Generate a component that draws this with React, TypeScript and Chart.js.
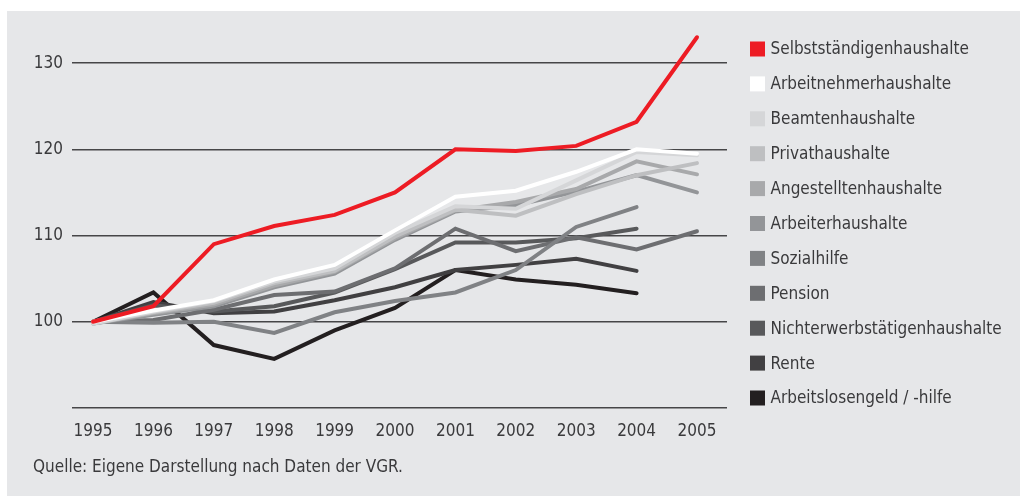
import React, { useEffect, useRef } from "react";
import { Chart, registerables } from "chart.js";

Chart.register(...registerables);

const years = [1995, 1996, 1997, 1998, 1999, 2000, 2001, 2002, 2003, 2004, 2005];
const yTicks = [90, 100, 110, 120, 130];

const seriesNames = [
  "Selbstständigenhaushalte",
  "Arbeitnehmerhaushalte",
  "Beamtenhaushalte",
  "Privathaushalte",
  "Angestelltenhaushalte",
  "Arbeiterhaushalte",
  "Sozialhilfe",
  "Pension",
  "Nichterwerbstätigenhaushalte",
  "Rente",
  "Arbeitslosengeld / -hilfe",
];

const seriesColors = [
  "#ed1c24",
  "#ffffff",
  "#d5d6d8",
  "#bebfc1",
  "#a8a9ab",
  "#939598",
  "#808285",
  "#6d6e71",
  "#58595b",
  "#414042",
  "#231f20",
];

const selbststaendige = [100, 101.8, 109.0, 111.1, 112.4, 115.0, 120.0, 119.8, 120.4, 123.2, 133.0];
const arbeitnehmer = [100, 101.3, 102.5, 104.9, 106.6, 110.6, 114.5, 115.2, 117.4, 120.0, 119.5];
const beamte = [99.8, 101.2, 102.4, 104.7, 106.2, 110.3, 113.4, 113.1, 116.4, 119.7, 119.3];
const privat = [99.8, 101.1, 102.2, 104.5, 105.9, 109.9, 113.0, 112.3, 114.8, 117.0, 118.4];
const angestellte = [99.8, 101.0, 102.0, 104.2, 105.8, 109.7, 112.9, 113.9, 115.4, 118.6, 117.1];
const arbeiter = [99.8, 100.8, 101.8, 104.0, 105.6, 109.5, 112.8, 113.5, 115.1, 117.0, 115.0];
const sozialhilfe = [100, 99.9, 100.0, 98.7, 101.1, 102.4, 103.4, 106.0, 111.0, 113.3];
const pension = [100, 100.2, 101.4, 103.1, 103.5, 106.2, 110.8, 108.2, 109.8, 108.4, 110.5];
const nichterwerb = [100, 101.9, 101.2, 101.8, 103.4, 106.1, 109.2, 109.2, 109.7, 110.8];
const rente = [100, 102.3, 101.0, 101.2, 102.5, 104.0, 106.0, 106.6, 107.3, 105.9];
const arbeitslos = [100, 103.4, 97.3, 95.7, 99.0, 101.6, 106.0, 104.9, 104.3, 103.3];

const seriesValues = [
  selbststaendige,
  arbeitnehmer,
  beamte,
  privat,
  angestellte,
  arbeiter,
  sozialhilfe,
  pension,
  nichterwerb,
  rente,
  arbeitslos,
];

const FONT = '"DejaVu Sans Condensed", "Liberation Sans Narrow", "Open Sans", sans-serif';
const FONT_SIZE = 17;
const TEXT = "#3a3a3c";
const BG = "#e6e7e9";

const legendPlugin = {
  id: "sideLegend",
  afterDraw(chart: any) {
    const ctx = chart.ctx;
    ctx.save();
    ctx.font = `${FONT_SIZE}px ${FONT}`;
    ctx.textBaseline = "middle";
    ctx.textAlign = "left";
    chart.data.datasets.forEach((ds: any, i: number) => {
      const cy = 38 + i * 34.9;
      ctx.fillStyle = ds.borderColor;
      ctx.fillRect(743, cy - 7.5, 15, 15);
      ctx.fillStyle = TEXT;
      ctx.fillText(ds.label, 763.5, cy + 1);
    });
    ctx.restore();
  },
};

export default function App() {
  const ref = useRef<HTMLCanvasElement | null>(null);

  useEffect(() => {
    if (!ref.current) return;
    const datasets = seriesNames.map((name, i) => ({
      label: name,
      data: seriesValues[i].map((v, j) => ({ x: years[j], y: v })),
      borderColor: seriesColors[i],
      backgroundColor: seriesColors[i],
      borderWidth: 4,
      borderCapStyle: "round" as const,
      borderJoinStyle: "miter" as const,
      pointRadius: 0,
      pointHoverRadius: 0,
      tension: 0,
      fill: false,
    }));

    const chart = new Chart(ref.current, {
      type: "line",
      data: { datasets },
      plugins: [legendPlugin],
      options: {
        animation: false,
        responsive: false,
        layout: { padding: { top: 9, right: 293, bottom: 0, left: 0 } },
        plugins: {
          legend: { display: false },
          tooltip: { enabled: false },
          title: { display: false },
        },
        scales: {
          x: {
            type: "linear",
            min: 1994.652,
            max: 2005.497,
            grid: { display: false, drawTicks: false },
            border: { display: false },
            afterBuildTicks: (scale: any) => {
              scale.ticks = years.map((v) => ({ value: v }));
            },
            afterFit: (scale: any) => {
              scale.height = 88;
              scale.paddingLeft = 0;
              scale.paddingRight = 0;
            },
            ticks: {
              autoSkip: false,
              maxRotation: 0,
              padding: 13,
              color: TEXT,
              font: { family: FONT, size: FONT_SIZE },
              callback: (v: any) => String(v),
            },
          },
          y: {
            type: "linear",
            min: 90,
            max: 135,
            grid: { color: "#464648", lineWidth: 1.6, drawTicks: false },
            border: { display: false },
            afterBuildTicks: (scale: any) => {
              scale.ticks = yTicks.map((v) => ({ value: v }));
            },
            afterFit: (scale: any) => {
              scale.width = 65;
              scale.paddingTop = 0;
              scale.paddingBottom = 0;
            },
            ticks: {
              padding: 9,
              color: TEXT,
              font: { family: FONT, size: FONT_SIZE },
              callback: (v: any) => (v === 90 ? "" : String(v)),
            },
          },
        },
      },
    });
    return () => chart.destroy();
  }, []);

  return (
    <div
      style={{
        position: "fixed",
        left: 7,
        top: 11,
        width: 1013,
        height: 485,
        background: BG,
        overflow: "hidden",
      }}
    >
      <canvas ref={ref} width={1013} height={485} style={{ display: "block" }} />
      <div
        style={{
          position: "absolute",
          left: 26,
          top: 444,
          fontFamily: FONT,
          fontSize: FONT_SIZE,
          lineHeight: "22px",
          color: TEXT,
          whiteSpace: "nowrap",
        }}
      >
        Quelle: Eigene Darstellung nach Daten der VGR.
      </div>
    </div>
  );
}
